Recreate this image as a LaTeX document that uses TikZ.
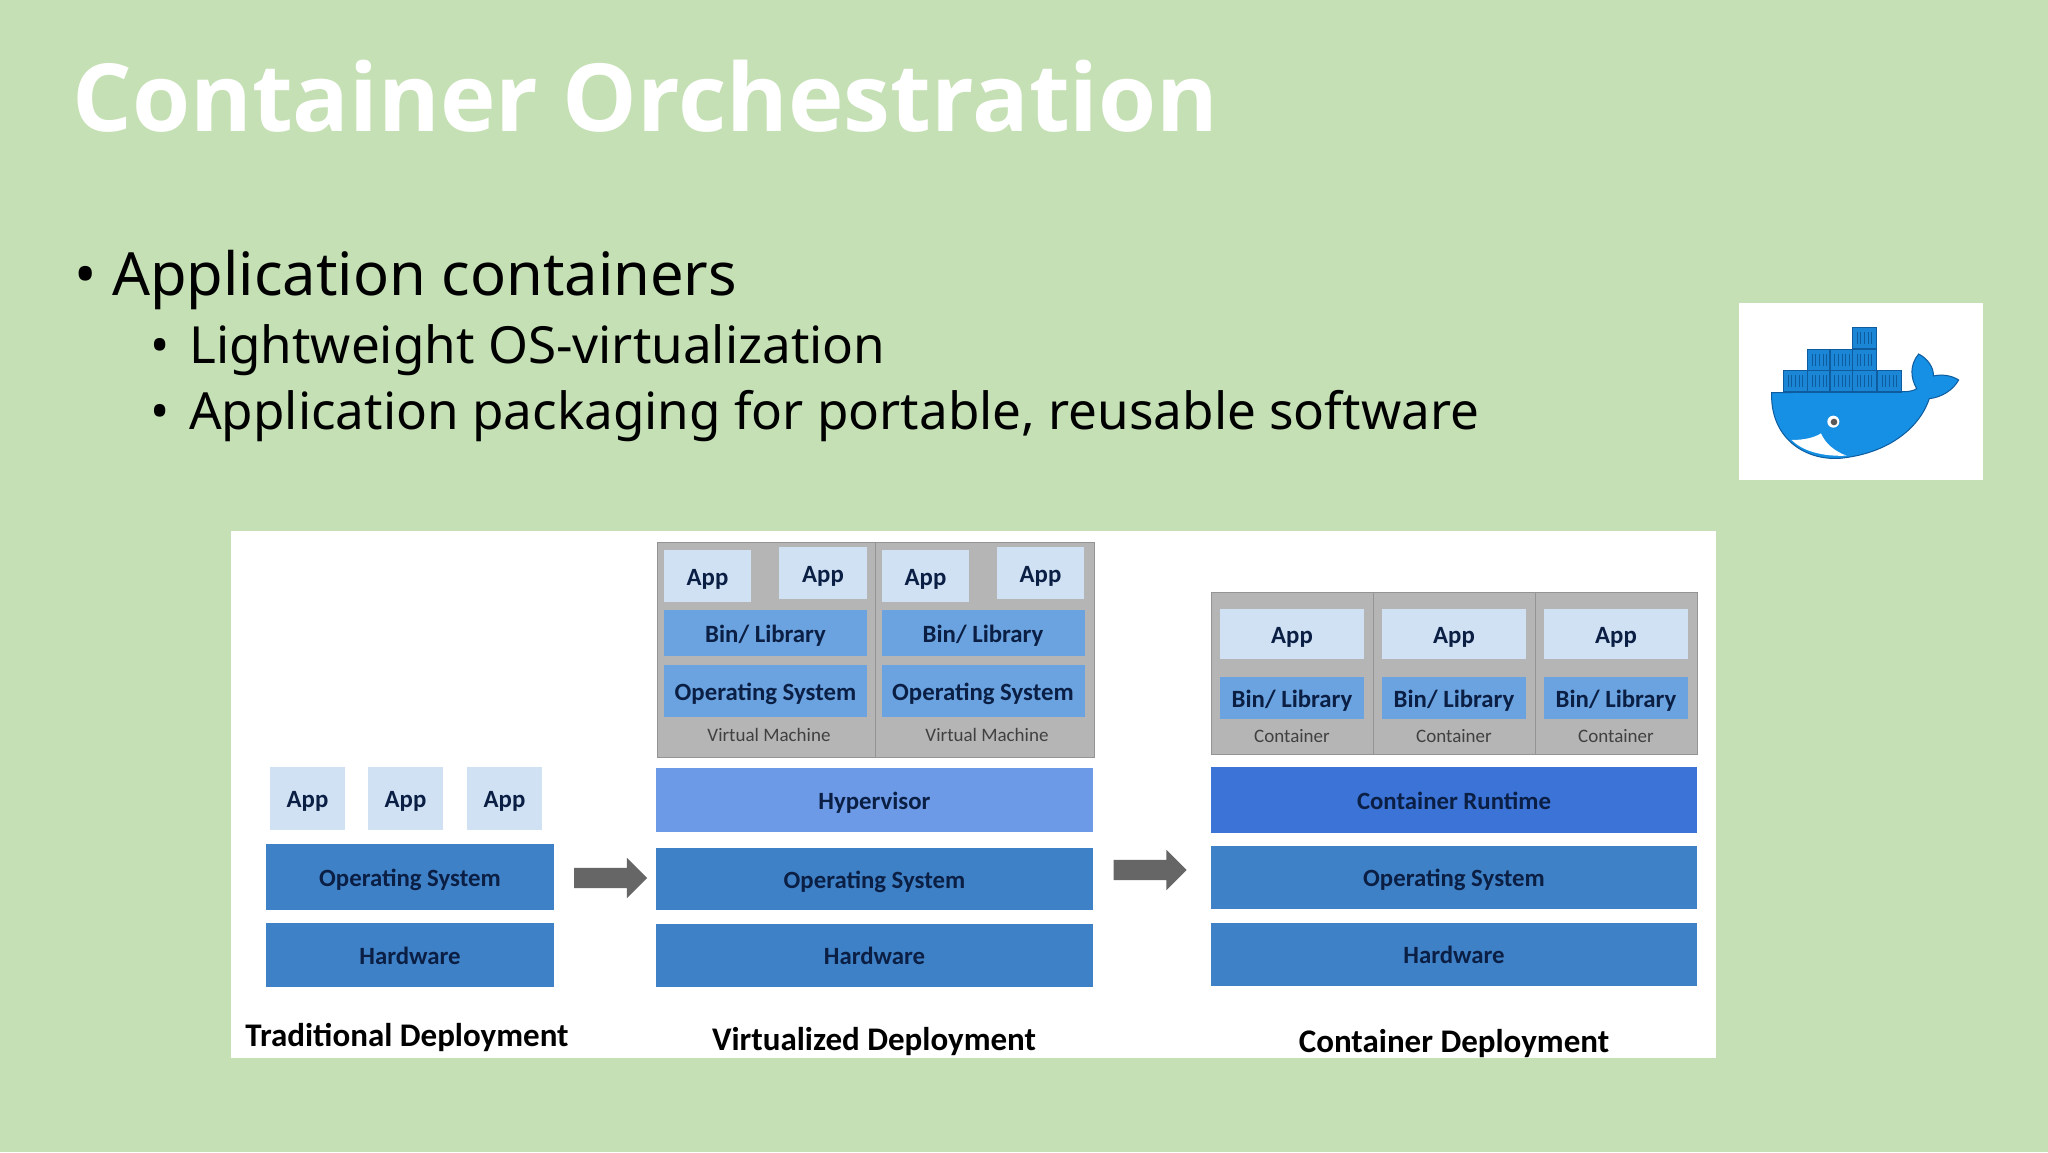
\documentclass[tikz,border=0pt]{standalone}
\usepackage{fontspec}
\setmainfont{Noto Sans}
\newfontfamily\titlefont{Open Sans}
\newfontfamily\boxfont{Carlito}
\usetikzlibrary{shapes.arrows}
\definecolor{slidegreen}{HTML}{C5E0B4}
\definecolor{appblue}{HTML}{CFE1F3}
\definecolor{binblue}{HTML}{6AA3DF}
\definecolor{osblue}{HTML}{3F81C6}
\definecolor{hyperblue}{HTML}{6C9AE6}
\definecolor{runblue}{HTML}{3B73D6}
\definecolor{inkblue}{HTML}{0B1F45}
\definecolor{whaleblue}{HTML}{1590E4}
\definecolor{crateblue}{HTML}{1B86D6}
\definecolor{whaleedge}{HTML}{0E5C9E}
\tikzset{
    % One unit of the picture is one pixel of the slide
    x=1pt, y=-1pt,
%
    % Slide text
    title text/.style={anchor=base west, inner sep=0, text=white,
        font=\titlefont\fontsize{94}{94}\selectfont\bfseries},
    first text/.style={anchor=base west, inner sep=0,
        font=\fontsize{59.6}{60}\selectfont},
    second text/.style={anchor=base west, inner sep=0,
        font=\fontsize{51.2}{52}\selectfont},
%
    % Coloured boxes of the deployment stacks
    stack box/.style={inner sep=0, text=inkblue, text height=22pt, text depth=4pt,
        font=\boxfont\fontsize{24.8}{25}\selectfont\bfseries},
    app fill/.style={stack box, fill=appblue},
    bin fill/.style={stack box, fill=binblue},
    os fill/.style={stack box, fill=osblue},
%
    % Grey frames round the virtual machines and containers
    frame box/.style={fill=black!29, draw=black!42, line width=1pt, inner sep=0},
    frame label/.style={inner sep=0, text=black!75, text height=16pt, text depth=3pt,
        font=\boxfont\fontsize{19}{19}\selectfont},
    stack title/.style={inner sep=0, text=black, text height=28pt, text depth=5pt,
        font=\boxfont\fontsize{33}{33}\selectfont\bfseries},
    step arrow/.style={single arrow, fill=black!60, inner sep=10pt,
        single arrow head extend=10pt, minimum height=73pt, single arrow tip angle=90}}

\begin{document}
\begin{tikzpicture}
\useasboundingbox (0,0) rectangle (2048,1152);
\fill [slidegreen] (0,0) rectangle (2048,1152);

\node (title) [title text] at (72,131) {Container Orchestration};
\node (bullet1) [first text] at (74,295) {•};
\node (item1) [first text] at (112,295) {Application containers};
\node (bullet2) [second text] at (150,363) {•};
\node (item2) [second text] at (189,363) {Lightweight OS-virtualization};
\node (bullet3) [second text] at (150,429) {•};
\node (item3) [second text] at (189,429) {Application packaging for portable, reusable software};

% The panel with the three deployments
\node (panel) [fill=white, inner sep=0, minimum width=1485pt, minimum height=527pt]
    at (973.5,794.5) {};

% Traditional
\node (tradapp1) [app fill, minimum width=75pt, minimum height=63pt] at (307.5,798.5) {App};
\node (tradapp2) [app fill, minimum width=75pt, minimum height=63pt] at (405.5,798.5) {App};
\node (tradapp3) [app fill, minimum width=75pt, minimum height=63pt] at (504.5,798.5) {App};
\node (trados) [os fill, minimum width=288pt, minimum height=66pt] at (410,877) {Operating System};
\node (tradhw) [os fill, minimum width=288pt, minimum height=64pt] at (410,955) {Hardware};
\node (tradname) [stack title] at (407,1035) {Traditional Deployment};

\node (arrow1) [step arrow] at (605.5,878) {};

% Virtualized
\node (vmframe1) [frame box, minimum width=218pt, minimum height=215pt] at (766,649.5) {};
\node (vmframe2) [frame box, minimum width=219pt, minimum height=215pt] at (984.5,649.5) {};
\node (vmapp1) [app fill, minimum width=87pt, minimum height=52pt] at (707.5,576) {App};
\node (vmapp2) [app fill, minimum width=88pt, minimum height=52pt] at (823,573) {App};
\node (vmapp3) [app fill, minimum width=87pt, minimum height=52pt] at (925.5,576) {App};
\node (vmapp4) [app fill, minimum width=87pt, minimum height=52pt] at (1040.5,573) {App};
\foreach \vm/\cx in {1/765.5, 2/983} {
    \node (vmbin\vm) [bin fill, minimum width=203pt, minimum height=46pt] at (\cx,633) {Bin/ Library};
    \node (vmos\vm) [bin fill, minimum width=203pt, minimum height=52pt] at (\cx,691) {Operating System};
}
\node (vmlabel1) [frame label] at (769,735) {Virtual Machine};
\node (vmlabel2) [frame label] at (987,735) {Virtual Machine};
\node (hyper) [stack box, fill=hyperblue, minimum width=437pt, minimum height=64pt] at (874.5,800) {Hypervisor};
\node (virtos) [os fill, minimum width=437pt, minimum height=62pt] at (874.5,879) {Operating System};
\node (virthw) [os fill, minimum width=437pt, minimum height=63pt] at (874.5,955.5) {Hardware};
\node (virtname) [stack title] at (874,1039) {Virtualized Deployment};

\node (arrow2) [step arrow] at (1145,870) {};

% Container
\foreach \ct/\cx in {1/1292, 2/1454, 3/1616} {
    \node (ctframe\ct) [frame box, minimum width=162pt, minimum height=162pt] at (\cx,673) {};
    \node (ctapp\ct) [app fill, minimum width=144pt, minimum height=50pt] at (\cx,634) {App};
    \node (ctbin\ct) [bin fill, minimum width=144pt, minimum height=42pt] at (\cx,698) {Bin/ Library};
    \node (ctlabel\ct) [frame label] at (\cx,736) {Container};
}
\node (runtime) [stack box, fill=runblue, minimum width=486pt, minimum height=66pt] at (1454,800) {Container Runtime};
\node (ctos) [os fill, minimum width=486pt, minimum height=63pt] at (1454,877.5) {Operating System};
\node (cthw) [os fill, minimum width=486pt, minimum height=63pt] at (1454,954.5) {Hardware};
\node (ctname) [stack title] at (1454,1041) {Container Deployment};

% Docker logo
\fill [white] (1739,303) rectangle (1983,480);
\begin{scope}[shift={(1720,290)}, x=.3333pt, y=-.3333pt]
\filldraw [fill=whaleblue, draw=whaleedge, line width=1pt]
    (155,308) -- (545,305) .. controls (565,306) and (582,302) .. (590,296)
    .. controls (572,265) and (568,225) .. (596,192)
    .. controls (622,205) and (642,232) .. (640,258)
    .. controls (665,252) and (695,256) .. (716,270)
    .. controls (700,300) and (665,322) .. (628,326)
    .. controls (600,410) and (510,490) .. (360,505)
    .. controls (250,512) and (150,440) .. cycle;
\fill [white] (215,450) .. controls (255,450) and (285,442) .. (303,430)
    .. controls (315,460) and (345,485) .. (380,497)
    .. controls (310,500) and (250,485) .. cycle;
\fill [white] (340,395) circle (18);
\fill [black!65] (342,396) circle (10);
\foreach \cx/\cy in {397/113, 262/178, 330/178, 397/178, 190/242, 262/242, 330/242, 397/242, 472/242} {
    \filldraw [fill=crateblue, draw=whaleedge, line width=1.2pt]
        (\cx,\cy) rectangle ++(72,64);
    \foreach \tick in {14,25,36,47,58}
        \draw [whaleedge, line width=.6pt] (\cx+\tick,\cy+14) -- ++(0,36);
}
\end{scope}

\end{tikzpicture}
\end{document}
